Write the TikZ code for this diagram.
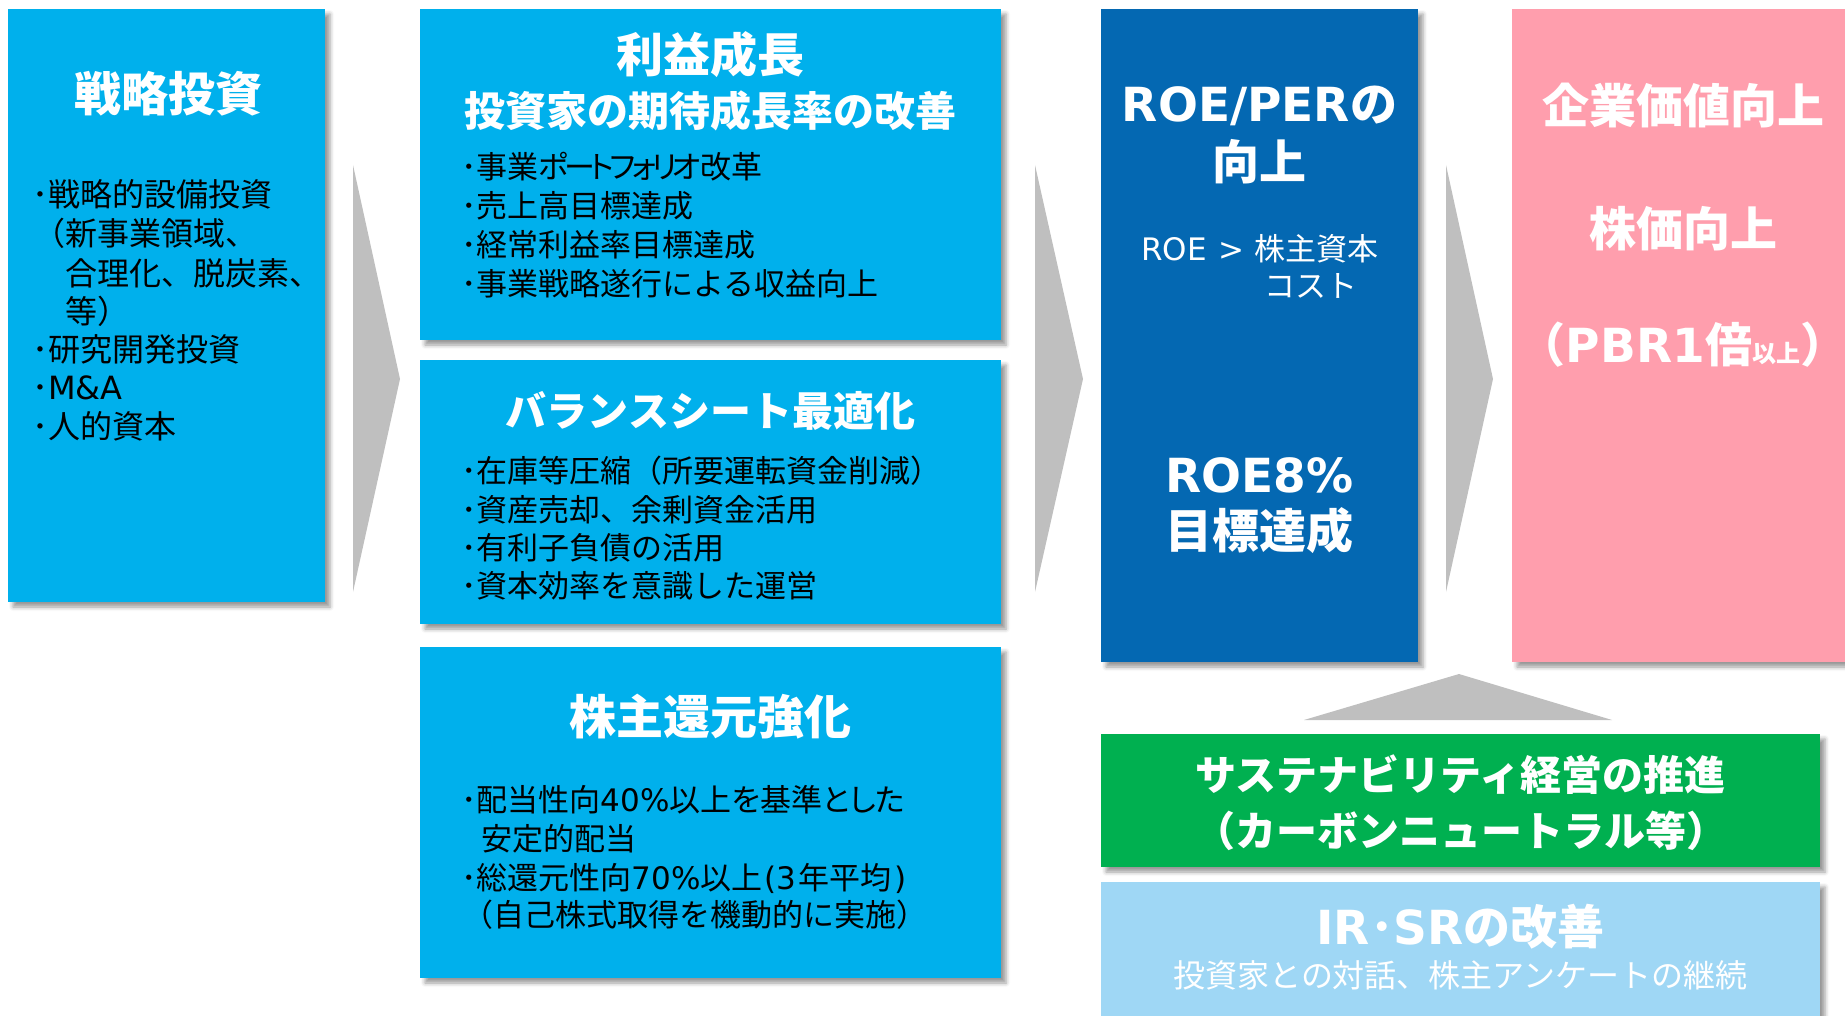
\documentclass[tikz,border=0pt]{standalone}
\usepackage{fontspec}
\setmainfont{Noto Sans CJK JP}
\newfontfamily\lat{DejaVu Sans}
\usetikzlibrary{shadows.blur}
\definecolor{cyanB}{RGB}{0,176,236}
\definecolor{darkB}{RGB}{4,104,178}
\definecolor{pinkB}{RGB}{255,158,173}
\definecolor{greenB}{RGB}{0,176,80}
\definecolor{lightB}{RGB}{159,215,245}
\definecolor{arrowG}{RGB}{191,191,191}
\tikzset{
  box/.style={rectangle, inner sep=0pt, outer sep=0pt, anchor=north west,
    blur shadow={shadow xshift=5pt, shadow yshift=-5pt, shadow blur radius=4pt, shadow opacity=40}},
  ttl/.style={text=white, font=\bfseries\fontsize{47}{50}\selectfont, inner sep=0pt},
  ttls/.style={text=white, font=\bfseries\fontsize{41}{44}\selectfont, inner sep=0pt},
  bul/.style={text=black, font=\fontsize{31}{34}\selectfont, inner sep=0pt, anchor=west},
  bulL/.style={bul, font=\fontsize{32}{34}\selectfont},
  wtxt/.style={text=white, font=\fontsize{31}{34}\selectfont, inner sep=0pt},
  chev/.style={fill=arrowG},
}
\newcommand{\kana}[1]{{\addfontfeature{RawFeature=+palt,LetterSpace=-14}#1}}
\newcommand{\pkana}[1]{{\addfontfeature{RawFeature=+palt}#1}}
\begin{document}
\begin{tikzpicture}[x=1pt,y=-1pt]
\useasboundingbox (0,0) rectangle (1845,1016);
% boxes
\node[box, fill=cyanB, minimum width=317pt, minimum height=593pt] (s1) at (8,9) {};
\node[box, fill=cyanB, minimum width=581pt, minimum height=331pt] (s2) at (420,9) {};
\node[box, fill=cyanB, minimum width=581pt, minimum height=264pt] (s3) at (420,360) {};
\node[box, fill=cyanB, minimum width=581pt, minimum height=331pt] (s4) at (420,647) {};
\node[box, fill=darkB, minimum width=317pt, minimum height=653pt] (s5) at (1101,9) {};
\node[box, fill=pinkB, minimum width=345pt, minimum height=653pt] (s6) at (1512,9) {};
\node[box, fill=greenB, minimum width=719pt, minimum height=133pt] (s7) at (1101,734) {};
\node[box, fill=lightB, minimum width=719pt, minimum height=145pt] (s8) at (1101,882) {};
% chevrons
\fill[chev] (353,165) -- (400,379) -- (353,592) -- cycle;
\fill[chev] (1035,165) -- (1083,379) -- (1035,592) -- cycle;
\fill[chev] (1446,165) -- (1493,379) -- (1446,592) -- cycle;
\fill[chev] (1304,720) -- (1459,674) -- (1612,720) -- cycle;
% box 1
\node[ttl] (t1) at (168,94) {戦略投資};
\node[bulL] (a1) at (32,194) {･戦略的設備投資};
\node[bulL] (a2) at (33,233) {（新事業領域、};
\node[bulL] (a3) at (65,273) {合理化、脱炭素、};
\node[bulL] (a4) at (65,311) {等）};
\node[bulL] (a5) at (32,349) {･研究開発投資};
\node[bulL] (a6) at (32,388) {･{\lat M\&A}};
\node[bulL] (a7) at (32,426) {･人的資本};
% box 2
\node[ttl] (t2) at (710.5,55) {利益成長};
\node[ttls] (t2b) at (710.5,111) {投資家の期待成長率の改善};
\node[bul] (b1) at (461,167) {･事業\kana{ポートフォリオ}改革};
\node[bul] (b2) at (461,206) {･売上高目標達成};
\node[bul] (b3) at (461,245) {･経常利益率目標達成};
\node[bul] (b4) at (461,284) {･事業戦略遂行による収益向上};
% box 3
\node[ttls] (t3) at (710.5,411) {バランスシート最適化};
\node[bul] (c1) at (461,471) {･在庫等圧縮（所要運転資金削減）};
\node[bul] (c2) at (461,510) {･資産売却、余剰資金活用};
\node[bul] (c3) at (461,548) {･有利子負債の活用};
\node[bul] (c4) at (461,586) {･資本効率を意識した運営};
% box 4
\node[ttl] (t4) at (710.5,717) {株主還元強化};
\node[bul] (d1) at (461,800) {･配当性向{\lat 40\%}以上\pkana{を}基準\pkana{とした}};
\node[bul] (d2) at (481,839) {安定的配当};
\node[bul] (d3) at (461,878) {･総還元性向{\lat 70\%}以上{\lat\hspace{2pt}(3\hspace{2pt}}年平均{\lat\hspace{3pt})}};
\node[bul] (d4) at (462,915) {（自己株式取得を機動的に実施）};
% box 5
\node[ttl] (t5) at (1259.5,106) {{\lat ROE/PER}の};
\node[ttl] (t5b) at (1259.5,162) {向上};
\node[wtxt] (e1) at (1260,249) {{\lat ROE\hspace{12pt}>\hspace{10pt}}株主資本};
\node[wtxt] (e2) at (1311,286) {コスト};
\node[ttl] (t5c) at (1259.5,475) {{\lat ROE8\%}};
\node[ttl] (t5d) at (1259.5,531) {目標達成};
% box 6
\node[ttl] (t6) at (1683,106) {企業価値向上};
\node[ttl] (t6b) at (1683,229) {株価向上};
\node[ttl] (t6c) at (1683,345) {（{\lat PBR1}倍{\fontsize{24}{26}\selectfont 以上}）};
% green
\node[ttls] (t7) at (1460.5,775) {サステナビリティ経営の推進};
\node[ttls] (t7b) at (1460.5,831) {（カーボンニュートラル等）};
% light blue
\node[ttl] (t8) at (1460.5,927) {{\lat IR}･{\lat SR}の改善};
\node[wtxt, font=\fontsize{32}{36}\selectfont] (t8b) at (1460.5,975) {投資家との対話、株主アンケートの継続};
\end{tikzpicture}
\end{document}
